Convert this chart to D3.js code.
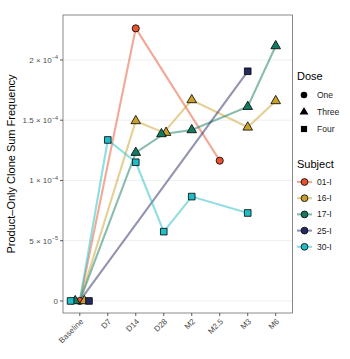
<!DOCTYPE html>
<html>
<head>
<meta charset="utf-8">
<script src="https://cdn.jsdelivr.net/npm/d3@7"></script>
<style>
  body { margin: 0; background: #fff; }
  svg { font-family: "Liberation Sans", Arial, sans-serif; }
</style>
</head>
<body>
<svg width="350" height="359"></svg>
<script>
var timepoints = ["Baseline", "D7", "D14", "D28", "M2", "M2.5", "M3", "M6"];
var subjects = ["01-I", "16-I", "17-I", "25-I", "30-I"];
var doseOf = ["One", "Three", "Three", "Four", "Four"];
var doses = ["One", "Three", "Four"];
var colors = ["#e8532f", "#c9a02a", "#137a62", "#252a62", "#1fbdc6"];

// one value per timepoint, null where the subject has no sample
var s01 = [0, null, 2.262e-4, null, null, 1.164e-4, null, null];
var s16 = [0, null, 1.494e-4, 1.397e-4, 1.668e-4, null, 1.441e-4, 1.660e-4];
var s17 = [0, null, 1.231e-4, 1.386e-4, 1.419e-4, null, 1.612e-4, 2.116e-4];
var s25 = [0, null, null, null, null, null, 1.906e-4, null];
var s30 = [0, 1.336e-4, 1.151e-4, 5.75e-5, 8.66e-5, null, 7.30e-5, null];
var seriesValues = [s01, s16, s17, s25, s30];

var yTicks = [0, 5e-5, 1e-4, 1.5e-4, 2e-4];
var yTickMant = ["0", "5", "1", "1.5", "2"];
var yTickExp = [null, "\u22125", "\u22124", "\u22124", "\u22124"];
var dodgeOrder = ["30-I", "17-I", "01-I", "16-I", "25-I"];

var svg = d3.select("svg");
var pLeft = 63, pRight = 292.5, pTop = 15, pBottom = 313;

var x = d3.scalePoint().domain(timepoints).range([pLeft, pRight]).padding(0.6);
var y = d3.scaleLinear().domain([-1e-5, 2.373e-4]).range([pBottom, pTop]);
var color = d3.scaleOrdinal().domain(subjects).range(colors);
var shape = d3.scaleOrdinal().domain(doses)
  .range([d3.symbolCircle, d3.symbolTriangle, d3.symbolSquare]);
var shapeSize = d3.scaleOrdinal().domain(doses).range([40, 40, 44]);

var data = [];
subjects.forEach(function (s, i) {
  seriesValues[i].forEach(function (v, j) {
    if (v !== null) data.push({ subject: s, dose: doseOf[i], time: timepoints[j], value: v });
  });
});

// dodge points that sit on (nearly) the same spot
timepoints.forEach(function (t) {
  var pts = data.filter(function (d) { return d.time === t; });
  pts.forEach(function (d) {
    var grp = pts.filter(function (e) { return Math.abs(e.value - d.value) < 3e-6; });
    grp.sort(function (a, b) { return dodgeOrder.indexOf(a.subject) - dodgeOrder.indexOf(b.subject); });
    d.dx = (grp.indexOf(d) - (grp.length - 1) / 2) * 4.6;
  });
});

// grid
svg.append("g").selectAll("line").data(yTicks).join("line")
  .attr("x1", pLeft).attr("x2", pRight)
  .attr("y1", function (d) { return y(d); }).attr("y2", function (d) { return y(d); })
  .attr("stroke", "#ebebeb").attr("stroke-width", 0.8);

// lines
var line = d3.line()
  .x(function (d) { return x(d.time); })
  .y(function (d) { return y(d.value); });
subjects.forEach(function (s) {
  svg.append("path")
    .datum(data.filter(function (d) { return d.subject === s; }))
    .attr("d", line)
    .attr("fill", "none")
    .attr("stroke", color(s))
    .attr("stroke-opacity", 0.5)
    .attr("stroke-width", 2.1);
});

// points
svg.append("g").selectAll("path").data(data).join("path")
  .attr("d", function (d) { return d3.symbol().type(shape(d.dose)).size(shapeSize(d.dose))(); })
  .attr("transform", function (d) { return "translate(" + (x(d.time) + d.dx) + "," + y(d.value) + ")"; })
  .attr("fill", function (d) { return color(d.subject); })
  .attr("stroke", "#000")
  .attr("stroke-width", 0.8);

// panel border
svg.append("rect")
  .attr("x", pLeft).attr("y", pTop).attr("width", pRight - pLeft).attr("height", pBottom - pTop)
  .attr("fill", "none").attr("stroke", "#8a8a8a").attr("stroke-width", 1);

// y axis
var yAxis = svg.append("g");
yTicks.forEach(function (t, i) {
  yAxis.append("line")
    .attr("x1", pLeft - 3).attr("x2", pLeft)
    .attr("y1", y(t)).attr("y2", y(t))
    .attr("stroke", "#333").attr("stroke-width", 0.8);
  var txt = yAxis.append("text")
    .attr("x", pLeft - 5).attr("y", y(t) + 3)
    .attr("text-anchor", "end")
    .attr("font-size", 8).attr("fill", "#4d4d4d");
  if (yTickExp[i] === null) {
    txt.text(yTickMant[i]);
  } else {
    txt.append("tspan").text(yTickMant[i] + " \u00d7 10");
    txt.append("tspan").attr("dy", -3.5).attr("font-size", 5.5).text(yTickExp[i]);
  }
});

// x axis
var xAxis = svg.append("g");
timepoints.forEach(function (t) {
  xAxis.append("line")
    .attr("x1", x(t)).attr("x2", x(t))
    .attr("y1", pBottom).attr("y2", pBottom + 3)
    .attr("stroke", "#333").attr("stroke-width", 0.8);
  xAxis.append("text")
    .attr("transform", "translate(" + (x(t) + 2) + "," + (pBottom + 7) + ") rotate(-45)")
    .attr("text-anchor", "end")
    .attr("dy", "0.35em")
    .attr("font-size", 8).attr("fill", "#4d4d4d")
    .text(t);
});

svg.append("text")
  .attr("transform", "translate(15," + ((pTop + pBottom) / 2) + ") rotate(-90)")
  .attr("text-anchor", "middle")
  .attr("font-size", 11).attr("fill", "#000")
  .text("Product\u2013Only Clone Sum Frequency");

// legends
var lx = 297;
svg.append("text").attr("x", lx).attr("y", 80).attr("font-size", 11).text("Dose");
doses.forEach(function (d, i) {
  var cy = 95 + i * 17;
  svg.append("path")
    .attr("d", d3.symbol().type(shape(d)).size(shapeSize(d) - 6)())
    .attr("transform", "translate(" + (lx + 7) + "," + cy + ")")
    .attr("fill", "#000");
  svg.append("text").attr("x", lx + 20).attr("y", cy + 3)
    .attr("font-size", 8.5).attr("fill", "#222").text(d);
});

svg.append("text").attr("x", lx).attr("y", 168).attr("font-size", 11).text("Subject");
subjects.forEach(function (s, i) {
  var cy = 182 + i * 16.2;
  svg.append("line")
    .attr("x1", lx).attr("x2", lx + 15).attr("y1", cy).attr("y2", cy)
    .attr("stroke", color(s)).attr("stroke-opacity", 0.5).attr("stroke-width", 2.1);
  svg.append("circle").attr("cx", lx + 7.5).attr("cy", cy).attr("r", 3.4)
    .attr("fill", color(s)).attr("stroke", "#000").attr("stroke-width", 0.8);
  svg.append("text").attr("x", lx + 20).attr("y", cy + 3)
    .attr("font-size", 8.5).attr("fill", "#222").text(s);
});
</script>
</body>
</html>
